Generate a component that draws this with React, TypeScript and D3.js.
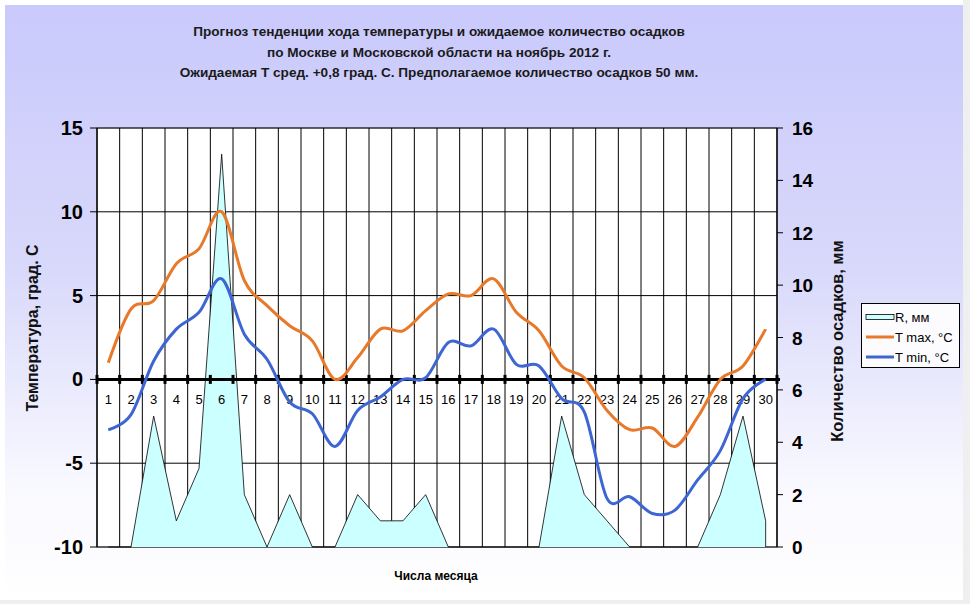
import React from 'react';
import * as d3 from 'd3';

// Daily values (November 2012, Moscow)
const days = [1, 2, 3, 4, 5, 6, 7, 8, 9, 10, 11, 12, 13, 14, 15, 16, 17, 18, 19, 20, 21, 22, 23, 24, 25, 26, 27, 28, 29, 30];
const tMax = [1.0, 4.2, 4.7, 6.9, 7.8, 10.0, 5.9, 4.4, 3.2, 2.3, 0.0, 1.3, 3.0, 2.9, 4.1, 5.1, 5.0, 6.0, 4.0, 2.9, 0.8, 0.1, -1.85, -3.0, -2.9, -4.0, -2.25, 0.0, 0.8, 3.0];
const tMin = [-3.0, -2.1, 1.1, 3.0, 4.0, 6.0, 2.7, 1.2, -1.35, -2.05, -4.0, -1.85, -1.05, 0.0, 0.1, 2.2, 2.0, 3.0, 0.9, 0.8, -1.15, -1.95, -7.1, -7.0, -8.0, -7.8, -6.0, -4.25, -1.15, 0.0];
const precip = [0, 0, 5, 1, 3, 15, 2, 0, 2, 0, 0, 2, 1, 1, 2, 0, 0, 0, 0, 0, 5, 2, 1, 0, 0, 0, 0, 2, 5, 1];

const tempTicks = [-10, -5, 0, 5, 10, 15];
const rainTicks = [0, 2, 4, 6, 8, 10, 12, 14, 16];

const titleLines = [
  'Прогноз тенденции хода температуры и ожидаемое количество осадков',
  'по Москве и Московской области на ноябрь 2012 г.',
  'Ожидаемая Т сред. +0,8 град. С. Предполагаемое количество осадков 50 мм.',
];

const legendItems = [
  { key: 'R', label: 'R, мм' },
  { key: 'max', label: 'T max, °C' },
  { key: 'min', label: 'T min, °C' },
];

const W = 970;
const H = 604;
const plot = { left: 97, right: 777, top: 128, bottom: 547 };
const FONT = '"Liberation Sans", Arial, sans-serif';
const ORANGE = '#e8792b';
const BLUE = '#3d66d3';

const App: React.FC = () => {
  const x = d3.scaleBand<number>()
    .domain(days)
    .range([plot.left, plot.right])
    .padding(0);
  const cx = (d: number) => (x(d) || 0) + x.bandwidth() / 2;

  const yT = d3.scaleLinear().domain([-10, 15]).range([plot.bottom, plot.top]);
  const yR = d3.scaleLinear().domain([0, 16]).range([plot.bottom, plot.top]);

  const line = (vals: number[]) =>
    d3.line<number>()
      .x((_, i) => cx(days[i]))
      .y(v => yT(v))
      .curve(d3.curveCardinal.tension(0))(vals) || '';

  const area = d3.area<number>()
    .x((_, i) => cx(days[i]))
    .y0(yR(0))
    .y1(v => yR(v))(precip) || '';

  const rainTop = d3.line<number>()
    .x((_, i) => cx(days[i]))
    .y(v => yR(v))(precip) || '';

  const y0 = yT(0);
  const bounds = days.map(d => x(d) || 0).concat([plot.right]);

  return (
    <div style={{ position: 'absolute', left: 0, top: 0 }}>
      <svg width={W} height={H} viewBox={`0 0 ${W} ${H}`} style={{ display: 'block', fontFamily: FONT }}>
        <defs>
          <linearGradient id="bg" x1="0" y1="0" x2="0" y2="1">
            <stop offset="0" stopColor="#c9c9fc" />
            <stop offset="0.45" stopColor="#d9d9fb" />
            <stop offset="0.8" stopColor="#f8f8ff" />
            <stop offset="1" stopColor="#ffffff" />
          </linearGradient>
        </defs>
        <rect x={0} y={0} width={W} height={H} fill="#ffffff" />
        <rect x={963} y={0} width={7} height={H} fill="#efefef" />
        <rect x={0} y={600} width={W} height={4} fill="#efefef" />
        <rect x={5} y={5} width={958} height={595} fill="url(#bg)" />

        {/* title */}
        {titleLines.map((t, i) => (
          <text key={i} x={439} y={36 + i * 20.5} textAnchor="middle" fontSize={13.6} fontWeight="bold" fill="#1a1a1a">{t}</text>
        ))}

        {/* plot background */}
        <rect x={plot.left} y={plot.top} width={plot.right - plot.left} height={plot.bottom - plot.top} fill="#ffffff" stroke="#888" strokeWidth={1} />

        {/* horizontal gridlines */}
        {tempTicks.map(t => (
          <line key={t} x1={plot.left} x2={plot.right} y1={yT(t)} y2={yT(t)} stroke="#000" strokeWidth={1} />
        ))}
        {/* vertical gridlines between categories */}
        {bounds.map((bx, i) => (
          <line key={i} x1={bx} x2={bx} y1={plot.top} y2={plot.bottom} stroke="#000" strokeWidth={1} />
        ))}

        {/* precipitation area */}
        <path d={area} fill="#ccffff" stroke="none" />
        <path d={rainTop} fill="none" stroke="#000" strokeWidth={0.8} />
        <line x1={cx(30)} x2={cx(30)} y1={yR(precip[precip.length - 1])} y2={yR(0)} stroke="#000" strokeWidth={0.8} />

        {/* zero axis with category ticks */}
        <line x1={plot.left} x2={plot.right + 3} y1={y0} y2={y0} stroke="#000" strokeWidth={3} />
        {bounds.map((bx, i) => (
          <rect key={i} x={bx - 1.5} y={y0 - 4.5} width={3} height={9} fill="#000" />
        ))}
        {days.map(d => (
          <text key={d} x={cx(d)} y={403.5} textAnchor="middle" fontSize={13} fill="#000">{d}</text>
        ))}

        {/* temperature lines */}
        <path d={line(tMax)} fill="none" stroke={ORANGE} strokeWidth={3} strokeLinejoin="round" />
        <path d={line(tMin)} fill="none" stroke={BLUE} strokeWidth={3} strokeLinejoin="round" />

        {/* left axis */}
        <line x1={plot.left} x2={plot.left} y1={plot.top} y2={plot.bottom} stroke="#000" strokeWidth={1} />
        {tempTicks.map(t => (
          <g key={t}>
            <line x1={plot.left - 7} x2={plot.left} y1={yT(t)} y2={yT(t)} stroke="#000" />
            <text x={83} y={yT(t) + 7} textAnchor="end" fontSize={20} fontWeight="bold" fill="#000">{t}</text>
          </g>
        ))}
        <text transform={`translate(38,328) rotate(-90)`} textAnchor="middle" fontSize={16} fontWeight="bold" fill="#111">Температура, град. С</text>

        {/* right axis */}
        <line x1={plot.right} x2={plot.right} y1={plot.top} y2={plot.bottom} stroke="#000" strokeWidth={1} />
        {rainTicks.map(t => (
          <g key={t}>
            <line x1={plot.right} x2={plot.right + 6} y1={yR(t)} y2={yR(t)} stroke="#000" />
            <text x={792} y={yR(t) + 7} textAnchor="start" fontSize={19} fontWeight="bold" fill="#000">{t}</text>
          </g>
        ))}
        <text transform={`translate(843,341) rotate(-90)`} textAnchor="middle" fontSize={16.5} fontWeight="bold" fill="#111">Количество осадков, мм</text>

        {/* x axis title */}
        <text x={436} y={580} textAnchor="middle" fontSize={12} fontWeight="bold" fill="#000">Числа месяца</text>

        {/* legend */}
        <rect x={861.5} y={303.5} width={98} height={64} fill="#fcfcff" stroke="#000" strokeWidth={1} />
        {legendItems.map((it, i) => {
          const ly = 317 + i * 20;
          return (
            <g key={it.key}>
              {it.key === 'R'
                ? <rect x={866} y={ly - 2.5} width={28} height={5} fill="#ccffff" stroke="#000" strokeWidth={0.8} />
                : <line x1={866} x2={894} y1={ly} y2={ly} stroke={it.key === 'max' ? ORANGE : BLUE} strokeWidth={3} />}
              <text x={895} y={ly + 5} fontSize={13} fill="#000">{it.label}</text>
            </g>
          );
        })}
      </svg>
    </div>
  );
};

export default App;
